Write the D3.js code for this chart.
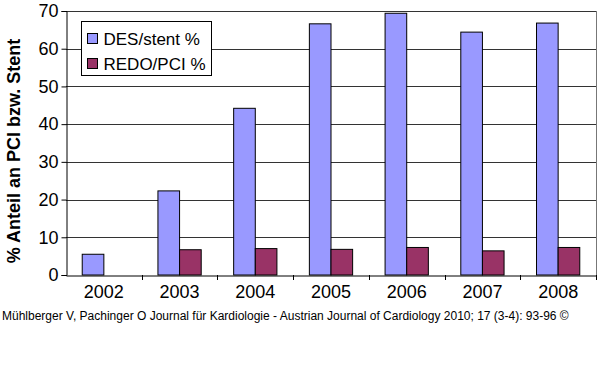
<!DOCTYPE html>
<html>
<head>
<meta charset="utf-8">
<script src="https://cdn.jsdelivr.net/npm/d3@7"></script>
<style>
  body { margin: 0; background: #fff; }
  svg { font-family: Arial, "Liberation Sans", sans-serif; }
</style>
</head>
<body>
<div id="chart"></div>
<script>
// chart data
const years = ["2002", "2003", "2004", "2005", "2006", "2007", "2008"];
const desStent = [5.5, 22.3, 44.2, 66.6, 69.4, 64.4, 66.8];
const redoPci = [null, 6.7, 7.0, 6.8, 7.3, 6.4, 7.3];
const seriesNames = ["DES/stent %", "REDO/PCI %"];
const seriesColors = ["#9999ff", "#993366"];
const yTicks = [0, 10, 20, 30, 40, 50, 60, 70];

const width = 600, height = 366;
const margin = { top: 11, right: 4, bottom: 91, left: 66 };

const svg = d3.select("#chart")
  .append("svg")
  .attr("width", width)
  .attr("height", height);

const x = d3.scaleBand()
  .domain(years)
  .range([margin.left, width - margin.right]);

const y = d3.scaleLinear()
  .domain([0, 70])
  .range([height - margin.bottom, margin.top]);

// gridlines
svg.append("g")
  .selectAll("line")
  .data(yTicks.slice(1))
  .enter()
  .append("line")
  .attr("x1", margin.left)
  .attr("x2", width - margin.right)
  .attr("y1", d => Math.round(y(d)) + 0.5)
  .attr("y2", d => Math.round(y(d)) + 0.5)
  .attr("stroke", "#333")
  .attr("stroke-width", 1);

// right border of plot
svg.append("line")
  .attr("x1", width - margin.right + 0.5)
  .attr("x2", width - margin.right + 0.5)
  .attr("y1", margin.top)
  .attr("y2", height - margin.bottom)
  .attr("stroke", "#777");

// bars, gap width 150% like Excel
const bw = x.bandwidth() / 3.5;
[desStent, redoPci].forEach(function(vals, si) {
  svg.append("g")
    .selectAll("rect")
    .data(years.filter((yr, i) => vals[i] != null))
    .enter()
    .append("rect")
    .attr("x", d => x(d) + x.bandwidth() / 2 - bw + si * bw)
    .attr("y", d => y(vals[years.indexOf(d)]))
    .attr("width", bw)
    .attr("height", d => y(0) - y(vals[years.indexOf(d)]))
    .attr("fill", seriesColors[si])
    .attr("stroke", "#000")
    .attr("stroke-width", 1);
});

// y axis
const yAxis = svg.append("g")
  .attr("transform", `translate(${margin.left + 0.5},0)`)
  .call(d3.axisLeft(y).tickValues(yTicks).tickSize(5).tickPadding(3));
yAxis.selectAll("text").style("font-size", "18px").attr("fill", "#000");
yAxis.selectAll("line, path").attr("stroke", "#000");

// x axis
const xAxis = svg.append("g")
  .attr("transform", `translate(0,${y(0) + 0.5})`)
  .call(d3.axisBottom(x).tickSize(0).tickPadding(10).tickSizeOuter(0));
xAxis.selectAll("text").style("font-size", "18px").attr("fill", "#000");
xAxis.select(".domain").attr("stroke", "#000");
// boundary ticks between categories
svg.append("g")
  .selectAll("line")
  .data(years)
  .enter()
  .append("line")
  .attr("x1", d => Math.round(x(d) + x.bandwidth()) + 0.5)
  .attr("x2", d => Math.round(x(d) + x.bandwidth()) + 0.5)
  .attr("y1", y(0))
  .attr("y2", y(0) + 5)
  .attr("stroke", "#000");

// y axis title
svg.append("text")
  .attr("transform", `translate(20,${(35 + 267) / 2}) rotate(-90)`)
  .attr("text-anchor", "middle")
  .style("font-size", "18px")
  .style("font-weight", "bold")
  .text("% Anteil an PCI bzw. Stent");

// legend
const legend = svg.append("g").attr("transform", "translate(81.5,21.5)");
legend.append("rect")
  .attr("width", 130)
  .attr("height", 54)
  .attr("fill", "#fff")
  .attr("stroke", "#000");
seriesNames.forEach(function(name, i) {
  legend.append("rect")
    .attr("x", 6)
    .attr("y", 12 + i * 25)
    .attr("width", 10)
    .attr("height", 10)
    .attr("fill", seriesColors[i])
    .attr("stroke", "#000");
  legend.append("text")
    .attr("x", 22)
    .attr("y", 23 + i * 25)
    .style("font-size", "17px")
    .text(name);
});

// source line
svg.append("text")
  .attr("x", 2)
  .attr("y", 320)
  .style("font-size", "12px")
  .text("Mühlberger V, Pachinger O Journal für Kardiologie - Austrian Journal of Cardiology 2010; 17 (3-4): 93-96 ©");
</script>
</body>
</html>
